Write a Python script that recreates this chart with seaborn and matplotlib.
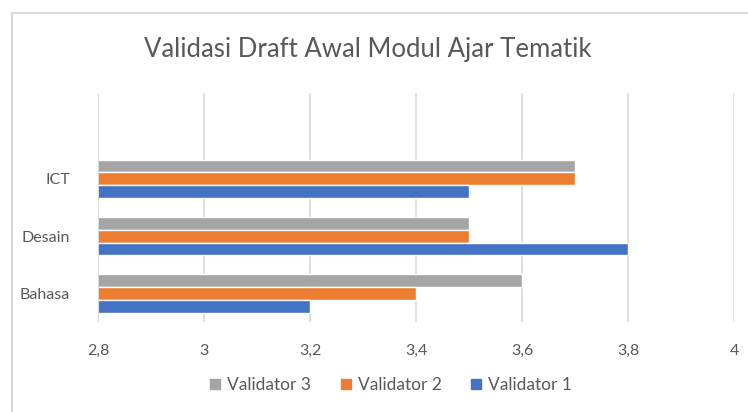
import pandas as pd
import seaborn as sns
import matplotlib.pyplot as plt
from matplotlib.lines import Line2D
from matplotlib.ticker import FuncFormatter

kategori = ["ICT", "Desain", "Bahasa"]
validator_3 = [3.7, 3.5, 3.6]
validator_2 = [3.7, 3.5, 3.4]
validator_1 = [3.5, 3.8, 3.2]
seri = ["Validator 3", "Validator 2", "Validator 1"]
warna = ["#A5A5A5", "#ED7D31", "#4472C4"]
x_ticks = [2.8, 3.0, 3.2, 3.4, 3.6, 3.8, 4.0]

df = pd.DataFrame({
    "Aspek": kategori * 3,
    "Nilai": validator_3 + validator_2 + validator_1,
    "Validator": [s for s in seri for _ in kategori],
})

sns.set_style("white")
plt.rcParams["font.family"] = ["Lato", "DejaVu Sans"]
teks = "#595959"
grid = "#D9D9D9"

fig = plt.figure(figsize=(7.48, 4.12), dpi=100)
ax = fig.add_axes([98 / 748, 1 - 322 / 412, 636 / 748, 229 / 412])

sns.barplot(data=df, y="Aspek", x="Nilai", hue="Validator", order=kategori,
            hue_order=seri, palette=warna, orient="h", width=0.67, gap=0,
            saturation=1, ax=ax, legend=False)

ax.set_xlim(2.8, 4.0)
ax.set_ylim(2.5, -1.5)
ax.set_xticks(x_ticks)
ax.xaxis.set_major_formatter(FuncFormatter(lambda v, p: f"{v:g}".replace(".", ",")))
ax.grid(axis="x", color=grid, linewidth=1.2)
ax.set_axisbelow(True)
for s in ax.spines.values():
    s.set_visible(False)
ax.axvline(2.8, color=grid, linewidth=1.5, zorder=3)
ax.tick_params(axis="both", length=0, labelsize=11.5, colors=teks)
ax.tick_params(axis="x", pad=16)
ax.tick_params(axis="y", pad=20)
ax.set_xlabel("")
ax.set_ylabel("")

fig.text(368 / 748, 1 - 50 / 412, "Validasi Draft Awal Modul Ajar Tematik",
         ha="center", va="center", fontsize=18.5, color=teks)

handles = [Line2D([], [], marker="s", linestyle="", markersize=7,
                  color=c) for c in warna]
fig.legend(handles, seri, loc="center", bbox_to_anchor=(390 / 748, 1 - 385 / 412),
           ncol=3, frameon=False, fontsize=12.5, labelcolor=teks,
           handletextpad=0.3, columnspacing=1.6, handlelength=0.8)

# chart area border (top and left visible)
fig.add_artist(Line2D([11.5 / 748, 1], [1 - 13 / 412, 1 - 13 / 412],
                      color=grid, linewidth=1.5, transform=fig.transFigure))
fig.add_artist(Line2D([11.5 / 748, 11.5 / 748], [0, 1 - 13 / 412],
                      color=grid, linewidth=1.5, transform=fig.transFigure))

fig.savefig("out.png", dpi=100)
